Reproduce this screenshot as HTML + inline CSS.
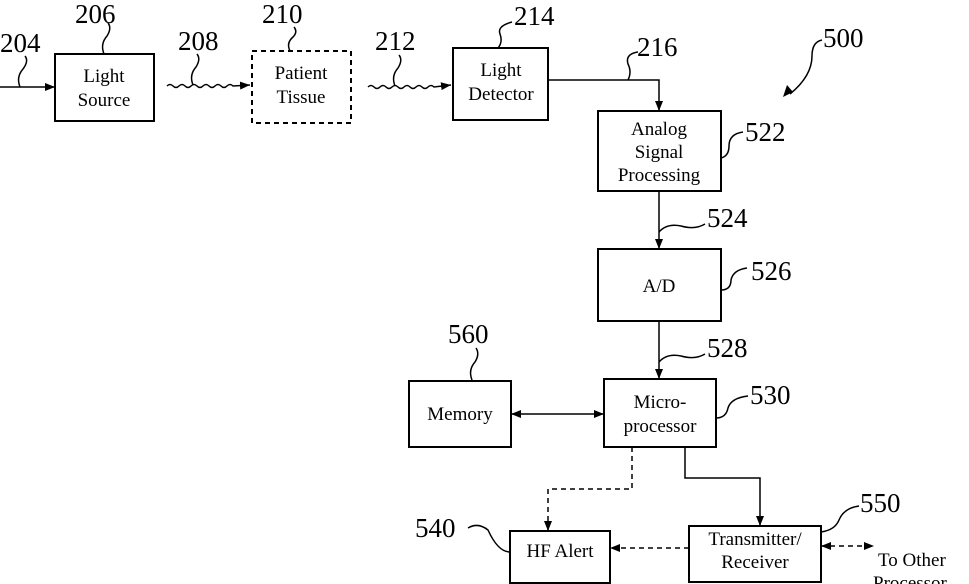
<!DOCTYPE html>
<html><head><meta charset="utf-8"><style>
html,body{margin:0;padding:0;background:#fff;}
svg{display:block;}
text{font-family:"Liberation Serif",serif;fill:#000;}
.n{font-size:27px;}
.b{font-size:19px;text-anchor:middle;}
</style></head><body>
<svg width="969" height="584" viewBox="0 0 969 584" xmlns="http://www.w3.org/2000/svg">
<defs>
<marker id="a" markerWidth="10" markerHeight="8" refX="10" refY="4" orient="auto" markerUnits="userSpaceOnUse"><path d="M0,0 L10,4 L0,8 z" fill="#000"/></marker>
<marker id="s" markerWidth="10" markerHeight="8" refX="0" refY="4" orient="auto" markerUnits="userSpaceOnUse"><path d="M10,0 L0,4 L10,8 z" fill="#000"/></marker>
</defs>
<g fill="none" stroke="#000" stroke-width="2">
<rect x="55" y="54" width="99" height="67"/>
<rect x="252" y="51" width="99" height="72" stroke-dasharray="5,4"/>
<rect x="453" y="48" width="95" height="72"/>
<rect x="598" y="111" width="123" height="80"/>
<rect x="598" y="249" width="123" height="72"/>
<rect x="604" y="379" width="112" height="68"/>
<rect x="409" y="381" width="102" height="66"/>
<rect x="510" y="531" width="100" height="52"/>
<rect x="689" y="526" width="132" height="56"/>
</g>
<g fill="none" stroke="#000" stroke-width="1.5">
<line x1="0" y1="87" x2="55" y2="87" marker-end="url(#a)"/>
<path d="M167,86 q3,-3 6,0 t6,0 t6,0 t6,0 t6,0 t6,0 t6,0 t6,0 t6,0 t6,0 t6,0 L250,85" marker-end="url(#a)"/>
<path d="M368,87 q3,-3 6,0 t6,0 t6,0 t6,0 t6,0 t6,0 t6,0 t6,0 t6,0 t6,0 t6,0 L451,85" marker-end="url(#a)"/>
<path d="M548,80 L659,80 L659,111" marker-end="url(#a)"/>
<line x1="659" y1="191" x2="659" y2="249" marker-end="url(#a)"/>
<line x1="659" y1="321" x2="659" y2="379" marker-end="url(#a)"/>
<line x1="511" y1="414" x2="604" y2="414" marker-start="url(#s)" marker-end="url(#a)"/>
<path d="M632,447 L632,489 L548,489 L548,531" stroke-dasharray="5,4" marker-end="url(#a)"/>
<path d="M685,447 L685,478 L760,478 L760,526" marker-end="url(#a)"/>
<line x1="689" y1="548" x2="610" y2="548" stroke-dasharray="5,4" marker-end="url(#a)"/>
<line x1="821" y1="546" x2="874" y2="546" stroke-dasharray="5,4" marker-start="url(#s)" marker-end="url(#a)"/>
<path d="M20,87 q-4,-10 3,-18 q6,-8 2,-13"/>
<path d="M104,54 q-4,-10 3,-18 q5,-8 1,-13"/>
<path d="M193,85 q-4,-10 3,-18 q5,-8 1,-13"/>
<path d="M290,51 q-4,-8 3,-14 q5,-5 1,-10"/>
<path d="M395,86 q-4,-10 3,-18 q5,-8 1,-13"/>
<path d="M498,48 q5,-6 2,-14 q-3,-8 12,-12"/>
<path d="M628,80 q4,-8 0,-16 q-3,-10 10,-12"/>
<path d="M721,158 q8,-2 8,-12 q0,-12 14,-14"/>
<path d="M659,232 q8,-9 22,-6 q14,4 24,-2"/>
<path d="M721,290 q10,0 10,-10 q2,-10 16,-12"/>
<path d="M659,362 q8,-9 22,-6 q14,4 24,-2"/>
<path d="M472,380 q-4,-10 3,-18 q5,-8 1,-14"/>
<path d="M716,418 q10,0 12,-10 q3,-10 20,-12"/>
<path d="M468,528 q10,-6 20,2 q10,22 22,22"/>
<path d="M821,532 q14,-2 18,-12 q5,-12 20,-14"/>
<path d="M822,40 q-10,2 -10,16 q0,20 -22,38"/>
</g>
<path d="M783,97 l4,-12 l6,7 z" fill="#000"/>
<g class="n">
<text x="0" y="52">204</text>
<text x="75" y="23">206</text>
<text x="178" y="50">208</text>
<text x="262" y="23">210</text>
<text x="375" y="50">212</text>
<text x="514" y="25">214</text>
<text x="637" y="56">216</text>
<text x="823" y="47">500</text>
<text x="745" y="141">522</text>
<text x="707" y="227">524</text>
<text x="751" y="280">526</text>
<text x="707" y="357">528</text>
<text x="448" y="343">560</text>
<text x="750" y="404">530</text>
<text x="415" y="537">540</text>
<text x="860" y="512">550</text>
</g>
<g class="b">
<text x="104" y="82">Light</text>
<text x="104" y="106">Source</text>
<text x="301" y="79">Patient</text>
<text x="301" y="103">Tissue</text>
<text x="501" y="76">Light</text>
<text x="501" y="100">Detector</text>
<text x="659" y="135">Analog</text>
<text x="659" y="158">Signal</text>
<text x="659" y="181">Processing</text>
<text x="659" y="292">A/D</text>
<text x="460" y="420">Memory</text>
<text x="660" y="408">Micro-</text>
<text x="660" y="432">processor</text>
<text x="560" y="557">HF Alert</text>
<text x="755" y="545">Transmitter/</text>
<text x="755" y="568">Receiver</text>
</g>
<text x="878" y="566" style="font-size:19px">To Other</text>
<text x="873" y="589" style="font-size:19px">Processor</text>
</svg>
</body></html>
